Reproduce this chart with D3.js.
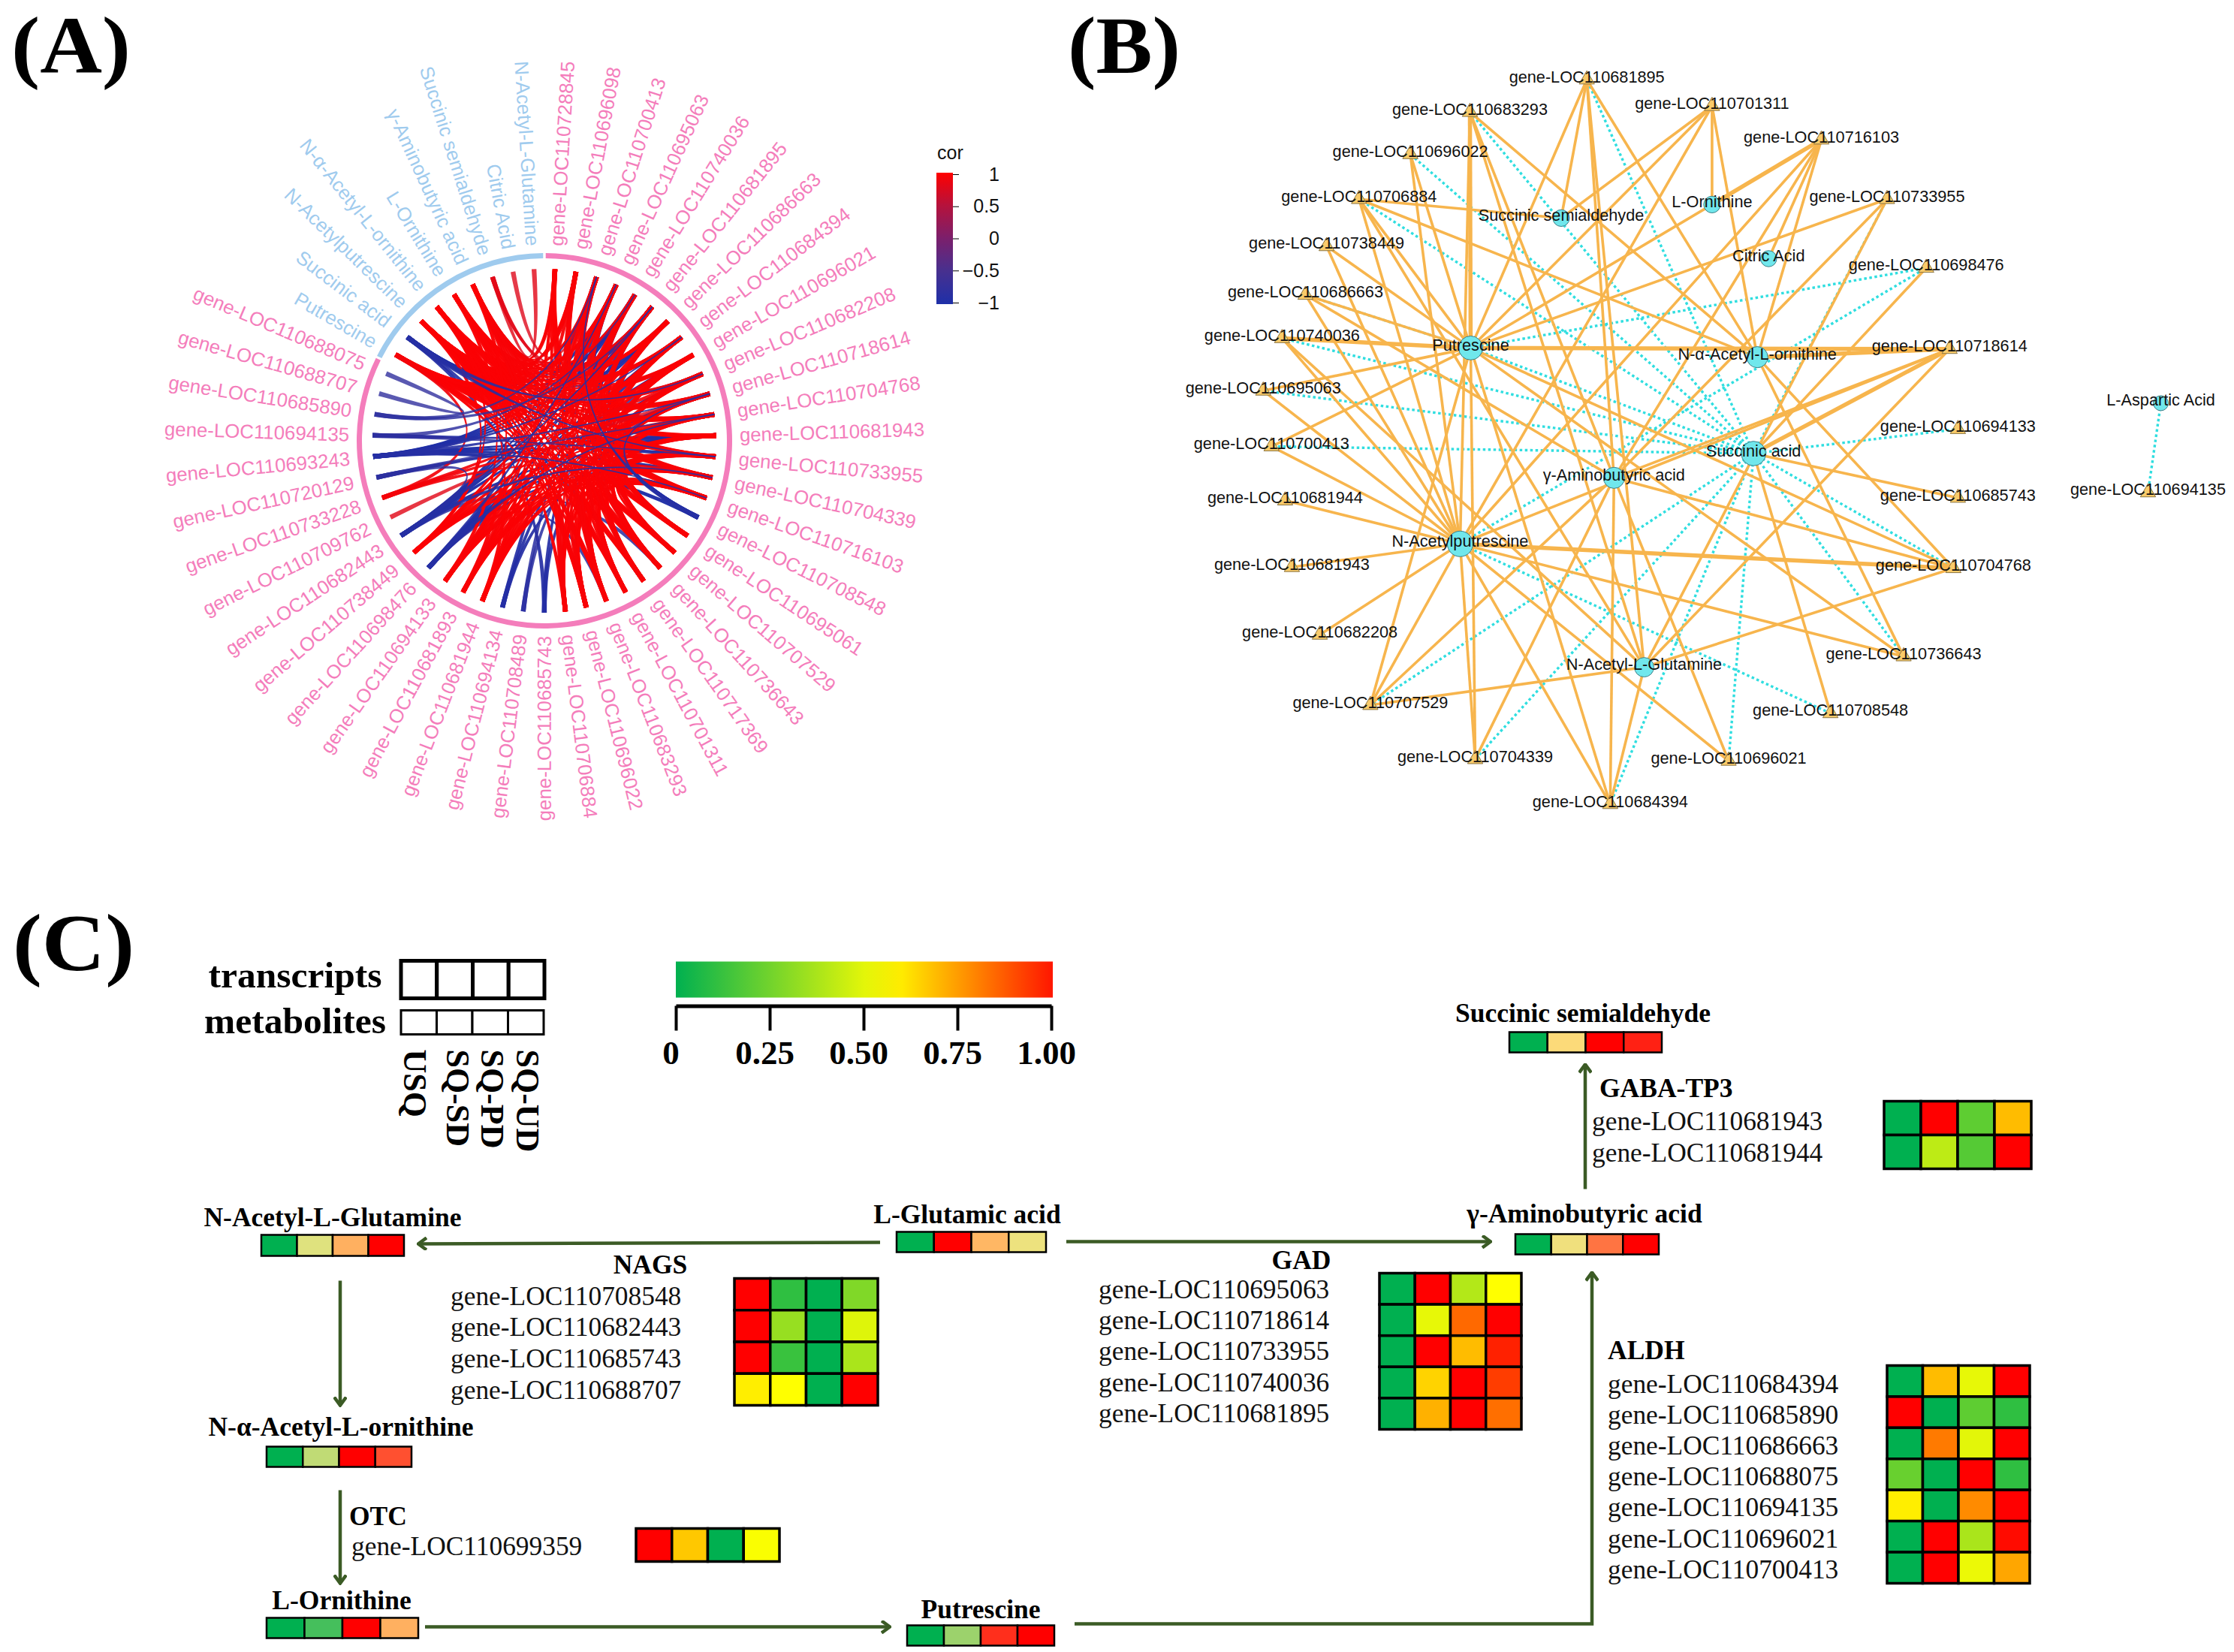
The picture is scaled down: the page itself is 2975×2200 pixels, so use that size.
<!DOCTYPE html>
<html><head><meta charset="utf-8">
<script src="https://cdn.jsdelivr.net/npm/d3@7/dist/d3.min.js"></script>
<style>html,body{margin:0;background:#fff}svg{display:block}</style></head>
<body><svg id="c" width="2975" height="2200"></svg>
<script>
// ---------- DATA: panel A ----------
const chordGenes = ["728845","696098","700413","695063","740036","681895","686663","684394","696021","682208","718614","704768","681943","733955","704339","716103","708548","695061","707529","736643","717369","701311","683293","696022","706884","685743","708489","694134","681944","681893","694133","698476","738449","682443","709762","733228","720129","693243","694135","685890","688707","688075"];
const chordMetabolites = ["Putrescine","Succinic acid","N-Acetylputrescine","N-α-Acetyl-L-ornithine","L-Ornithine","γ-Aminobutyric acid","Succinic semialdehyde","Citric Acid","N-Acetyl-L-Glutamine"];
const corTicks = [1,0.5,0,-0.5,-1];
// node indices: 0-41 genes clockwise from the top, 42-50 metabolites
const blueUnder = [[43,[4,5,6,7,3],-0.97],[37,[3,4,5,6,12,13,14],-0.97],[33,[3,4,6,8,12,2],-0.97],[31,[5,7,10,12,14,9],-0.97],[16,[3,4,5,6,37],-0.97],[12,[38,36],-0.92],[25,[5,10,43],-0.92],[26,[4,8],-0.85],[27,[3,7,12],-0.92],[43,[11,20],-0.9],[31,[22],-0.85],[33,[19],-0.85]];
const redLinks = [
 [42,[3,5,7,9,10,11,12,13,14,15,18,20,1,8,19,22],0.97],
 [44,[1,2,4,6,8,10,11,12,13,14,15,17,18,19,20,21,22,23,3,5,7,9],0.97],
 [45,[3,5,7,9,10,12,14,18,20,22,24,1,6,11,19,21,23],0.97],
 [46,[0,2,9,11,13,15,19,21,3,5,7,17,23],0.97],
 [47,[0,1,3,5,8,10,11,13,17,19,23,7,14,15,21],0.95],
 [48,[50,5,9],0.8],[49,[2],0.78],
 [5,[18,20,22],0.97],[6,[17,19,21,23],0.97],[7,[18,20,22,24],0.97],[8,[17,19,21,23],0.97],[9,[18,20,22,24],0.97],
 [10,[17,19,21,23],0.97],[11,[18,20,22,24,28],0.97],[12,[17,19,21,23,29],0.97],[13,[18,20,22,24,28],0.97],[14,[19,21,23,29,30],0.97],[15,[18,20,22,24,30],0.97],
 [32,[44,45,5,8,11,3,13,15],0.97],[30,[5,9,12,46,3,7,14],0.97],[29,[3,7,13,47,5,10,15],0.97],[28,[2,6,10,45,4,8,14],0.97],[34,[10],0.8],[35,[9,11,14,42],0.92],
 [0,[24,17,19,21,28],0.97],[1,[23,19,20,22,29],0.95],[2,[22,18,17,24,30],0.95],[3,[21,18,19,23],0.95],[4,[20,24,17,21,22],0.95]];
const blueOver = [[40,[41],-0.78],[39,[2,5],-0.82],[38,[4,13],-0.82],[36,[33,11],-0.82],[37,[15,7,10],-0.9],[16,[2,10],-0.9],[43,[9,13],-0.9],[33,[14,5],-0.9],[31,[3,11],-0.9]];
const blueEnds = [16,25,26,27,31,33,36,37,38,39,40,41,43];

// ---------- DATA: panel B ----------
const netGenes = ["681895","683293","701311","696022","716103","706884","733955","738449","698476","686663","740036","718614","695063","700413","694133","681944","685743","681943","704768","682208","736643","707529","708548","704339","696021","684394","694135"];
const netGeneX = [710,555,876,476,1021,408,1108,365,1160,337,306,1191,281,292,1202,310,1202,319,1196,356,1130,423,1033,562,898,741,1454];
const netGeneY = [147,207,196,285,258,368,368,455,495,545,625,645,722,825,793,925,920,1048,1050,1173,1213,1303,1318,1403,1406,1486,910];
const netMets = ["Succinic semialdehyde","L-Ornithine","Citric Acid","Putrescine","N-α-Acetyl-L-ornithine","Succinic acid","γ-Aminobutyric acid","N-Acetylputrescine","N-Acetyl-L-Glutamine","L-Aspartic Acid"];
const netMetX = [676,876,951,556,936,931,746,542,786,1471];
const netMetY = [403,378,478,643,660,838,883,1005,1233,745];
const netMetDegree = [4,4,3,17,12,18,12,20,9,1];
const netSolid = [
 ["Succinic semialdehyde",["706884","701311","681895"]],
 ["L-Ornithine",["701311","716103"]],
 ["Citric Acid",["716103"]],
 ["Putrescine",["681895","683293","701311","696022","716103","706884","733955","738449","686663","740036","718614","695063","700413","704768","707529","704339","736643","684394"]],
 ["N-α-Acetyl-L-ornithine",["681895","683293","701311","716103","706884","718614","736643","704768"]],
 ["Succinic acid",["718614","685743","698476","708548"]],
 ["γ-Aminobutyric acid",["681895","716103","718614","704768","684394","683293","686663","707529","704339","733955","696021"]],
 ["N-Acetylputrescine",["683293","701311","716103","696022","706884","738449","686663","740036","718614","695063","700413","681944","681943","704768","682208","736643","707529","704339","696021","684394"]],
 ["N-Acetyl-L-Glutamine",["681895","683293","706884","740036","704768","707529","733955","718614","684394"]]];
const netDotted = [
 ["Putrescine",["698476","686663","Succinic acid"]],
 ["Succinic acid",["681895","683293","696022","706884","733955","740036","718614","695063","700413","694133","704768","736643","707529","704339","696021","684394"]],
 ["N-Acetylputrescine",["708548","698476"]],
 ["L-Aspartic Acid",["694135"]]];
const netThick = ["Putrescine|740036","Putrescine|718614","N-α-Acetyl-L-ornithine|718614","Succinic acid|718614","N-Acetylputrescine|704768","Putrescine|683293","L-Ornithine|716103"];

// ---------- DATA: panel C ----------
const conditions = ["USQ","SQ-SD","SQ-PD","SQ-UD"];
const scaleTicks = [0,0.25,0.5,0.75,1];
const metabNames = ["N-Acetyl-L-Glutamine","N-α-Acetyl-L-ornithine","L-Ornithine","Putrescine","L-Glutamic acid","γ-Aminobutyric acid","Succinic semialdehyde"];
const metabValues = [[0,.43,.72,1],[0,.36,1,.88],[0,.12,1,.72],[0,.28,.93,1],[0,1,.7,.48],[0,.5,.82,1],[0,.58,1,.95]];
const nagsGenes = ["gene-LOC110708548","gene-LOC110682443","gene-LOC110685743","gene-LOC110688707"];
const nagsValues = [[1,.1,0,.27],[1,.32,0,.47],[1,.12,0,.36],[.57,.54,0,1]];
const otcGenes = ["gene-LOC110699359"];
const otcValues = [[1,.64,0,.53]];
const gadGenes = ["gene-LOC110695063","gene-LOC110718614","gene-LOC110733955","gene-LOC110740036","gene-LOC110681895"];
const gadValues = [[0,1,.38,.54],[0,.49,.81,1],[0,1,.66,.94],[0,.62,1,.89],[0,.68,1,.8]];
const gabaGenes = ["gene-LOC110681943","gene-LOC110681944"];
const gabaValues = [[0,1,.2,.66],[0,.4,.18,1]];
const aldhGenes = ["gene-LOC110684394","gene-LOC110685890","gene-LOC110686663","gene-LOC110688075","gene-LOC110694135","gene-LOC110696021","gene-LOC110700413"];
const aldhValues = [[0,.66,.49,1],[1,0,.2,.1],[0,.78,.48,1],[.22,0,1,.1],[.57,0,.75,1],[0,1,.36,.98],[0,1,.5,.7]];

// ---------- LAYOUT ----------
const svg = d3.select("#c");
svg.append("rect").attr("width",2975).attr("height",2200).attr("fill","#fff");
const SERIF="'Liberation Serif','Times New Roman',serif", SANS="'Liberation Sans',Arial,sans-serif";
[["(A)",15,97,159],["(B)",1422,97,150],["(C)",17,1292,162]].forEach(d=>svg.append("text").text(d[0]).attr("x",d[1]).attr("y",d[2])
  .attr("textLength",d[3]).attr("lengthAdjust","spacingAndGlyphs")
  .attr("font-family",SERIF).attr("font-weight","bold").attr("font-size",108).attr("fill","#000"));

// ---------- PANEL A ----------
const A = svg.append("g").attr("transform","translate(725,587)");
const nodeIds = chordGenes.map(d=>"gene-LOC110"+d).concat(chordMetabolites);
const angle = d3.scalePoint().domain(d3.range(51)).range([3.53,3.53+50*7.06]);
const PINK="#F47DBB", LBLUE="#9FCBEE";
const polar=(deg,r)=>[r*Math.sin(deg*Math.PI/180),-r*Math.cos(deg*Math.PI/180)];
const ringArc=d3.arc().innerRadius(243).outerRadius(250);
A.append("path").attr("fill",PINK).attr("d",ringArc({startAngle:0.4*Math.PI/180,endAngle:(3.53+41*7.06+3.2)*Math.PI/180}));
A.append("path").attr("fill",LBLUE).attr("d",ringArc({startAngle:(3.53+41*7.06+3.9)*Math.PI/180,endAngle:(360-0.4)*Math.PI/180}));
nodeIds.forEach((n,i)=>{
  const a=angle(i), right=a<179;
  const p=polar(a,260);
  A.append("text").text(n).attr("transform",`translate(${p[0]},${p[1]}) rotate(${right?a-90:a+90})`)
   .attr("text-anchor",right?"start":"end").attr("dy","0.35em")
   .attr("font-family",SANS).attr("font-size",25.8).attr("fill",i<42?PINK:LBLUE);
});
const corColor=d3.scaleLinear().domain([-1,-0.5,0,0.5,1]).range(["#1E2FA8","#47308F","#7B1F6C","#B5123C","#FF0000"]);
const corAlpha=d3.scaleLinear().domain([0.7,1]).range([0.72,1]);
const ribbonLine=d3.line().curve(d3.curveLinearClosed);
function ribbon(a,b,endB){
  const P=polar(angle(a),229), Q=polar(angle(b),229), L=[], R=[];
  for(let k=0;k<=32;k++){
    const t=k/32, u=1-t;
    const x=u*u*P[0]+t*t*Q[0], y=u*u*P[1]+t*t*Q[1];
    let dx=-2*u*P[0]+2*t*Q[0], dy=-2*u*P[1]+2*t*Q[1];
    const m=Math.hypot(dx,dy)||1; dx/=m; dy/=m;
    const wE=t<0.5?3.2:endB;
    const w=0.85+(wE-0.85)*Math.pow(Math.abs(2*t-1),1.2);
    L.push([x-dy*w,y+dx*w]); R.unshift([x+dy*w,y-dx*w]);
  }
  return ribbonLine(L.concat(R));
}
const expand=(l,over)=>l.flatMap(([a,bs,r])=>bs.map(b=>({a,b,r,e:over&&!blueEnds.includes(b)?0.85:3.2})));
A.selectAll("path.link").data([...expand(blueUnder,false),...expand(redLinks,false),...expand(blueOver,true)]).join("path")
 .attr("class","link").attr("d",d=>ribbon(d.a,d.b,d.e)).attr("fill",d=>corColor(d.r)).attr("fill-opacity",d=>corAlpha(Math.abs(d.r)));
// legend
const corY=d3.scaleLinear().domain([-1,1]).range([403,232]);
const defs=svg.append("defs");
const gr=defs.append("linearGradient").attr("id","corG").attr("x1",0).attr("x2",0).attr("y1",1).attr("y2",0);
d3.range(-1,1.01,0.25).forEach(v=>gr.append("stop").attr("offset",(v+1)/2).attr("stop-color",corColor(v)));
svg.append("rect").attr("x",1247).attr("y",230).attr("width",22).attr("height",175).attr("fill","url(#corG)");
const corAxis=svg.append("g").attr("transform","translate(1269,0)").call(d3.axisRight(corY).tickValues(corTicks).tickSize(8).tickFormat(d3.format("")));
corAxis.select(".domain").remove();
corAxis.selectAll("text").attr("x",62).attr("text-anchor","end").attr("font-family",SANS).attr("font-size",25).attr("fill","#111");
svg.append("text").text("cor").attr("x",1248).attr("y",212).attr("font-family",SANS).attr("font-size",25).attr("fill","#111");

// ---------- PANEL B ----------
const nx=d3.scaleLinear().domain([0,1568]).range([1400,2975]);
const ny=d3.scaleLinear().domain([0,1568]).range([0,1130]);
const B=svg.append("g");
const pos=new Map();
netGenes.forEach((g,i)=>pos.set(g,[nx(netGeneX[i]),ny(netGeneY[i])]));
netMets.forEach((m,i)=>pos.set(m,[nx(netMetX[i]),ny(netMetY[i])]));
const flat=l=>l.flatMap(([m,gs])=>gs.map(g=>({m,g})));
B.selectAll("line.d").data(flat(netDotted)).join("line").attr("class","d")
 .attr("x1",d=>pos.get(d.m)[0]).attr("y1",d=>pos.get(d.m)[1]).attr("x2",d=>pos.get(d.g)[0]).attr("y2",d=>pos.get(d.g)[1])
 .attr("stroke","#30DEE0").attr("stroke-width",3.4).attr("stroke-dasharray","3.5 3.5");
B.selectAll("line.s").data(flat(netSolid)).join("line").attr("class","s")
 .attr("x1",d=>pos.get(d.m)[0]).attr("y1",d=>pos.get(d.m)[1]).attr("x2",d=>pos.get(d.g)[0]).attr("y2",d=>pos.get(d.g)[1])
 .attr("stroke","#F7B54D").attr("stroke-width",d=>netThick.includes(d.m+"|"+d.g)?5.5:3.6);
const tri=d3.symbol().type(d3.symbolTriangle).size(180);
B.selectAll("path.g").data(netGenes).join("path").attr("class","g").attr("d",tri)
 .attr("transform",d=>`translate(${pos.get(d)[0]},${pos.get(d)[1]})`).attr("fill","#F9CB6A").attr("stroke","#8A7440").attr("stroke-width",1);
const metR=d3.scaleLinear().domain([1,20]).range([10,17]);
B.selectAll("circle.m").data(netMets).join("circle").attr("class","m")
 .attr("cx",d=>pos.get(d)[0]).attr("cy",d=>pos.get(d)[1]).attr("r",(d,i)=>metR(netMetDegree[i]))
 .attr("fill","#70E7EC").attr("stroke","#3F8088").attr("stroke-width",1);
B.selectAll("text.gl").data(netGenes.map(g=>"gene-LOC110"+g)).join("text").attr("class","gl").text(d=>d)
 .attr("x",(d,i)=>nx(netGeneX[i])).attr("y",(d,i)=>ny(netGeneY[i])-4).attr("dy","0.35em").attr("text-anchor","middle")
 .attr("font-family",SANS).attr("font-size",21.7).attr("fill","#111");
B.selectAll("text.ml").data(netMets).join("text").attr("class","ml").text(d=>d)
 .attr("x",(d,i)=>nx(netMetX[i])).attr("y",(d,i)=>ny(netMetY[i])-4).attr("dy","0.35em").attr("text-anchor","middle")
 .attr("font-family",SANS).attr("font-size",21.7).attr("fill","#111");

// ---------- PANEL C ----------
const C=svg.append("g").attr("transform","translate(0,1.5)");
const heat=d3.scaleLinear().domain([0,.54,1]).range(["#00B050","#FFFF00","#FF0000"]);
const metabHeat=d3.scaleLinear().domain([0,.25,.45,.6,.72,.88,1]).range(["#00B050","#8FCF68","#E8E480","#FFD878","#FFB060","#FF5030","#FF0000"]);
const bold=(t,x,y,size,anchor)=>C.append("text").text(t).attr("x",x).attr("y",y).attr("font-family",SERIF).attr("font-weight","bold").attr("font-size",size).attr("text-anchor",anchor||"middle").attr("fill","#000");
const plain=(t,x,y)=>C.append("text").text(t).attr("x",x).attr("y",y).attr("font-family",SERIF).attr("font-size",35.4).attr("fill","#111");

function tiles(values,x0,x1,y0,y1,color,sw){
  const xs=d3.scaleBand().domain(d3.range(values[0].length)).range([x0,x1]);
  const ys=d3.scaleBand().domain(d3.range(values.length)).range([y0,y1]);
  const g=C.append("g");
  values.forEach((row,r)=>row.forEach((v,c)=>g.append("rect").attr("x",xs(c)).attr("y",ys(r)).attr("width",xs.bandwidth()).attr("height",ys.bandwidth())
    .attr("fill",v===null?"#fff":color(v)).attr("stroke","#000").attr("stroke-width",sw)));
}
// legend boxes
bold("transcripts",393,1313,49.5); bold("metabolites",393,1374,49.5);
tiles([[null,null,null,null]],534,725,1278,1328,heat,5);
tiles([[null,null,null,null]],534,724,1344,1376,heat,3);
const condX=[553,610,656,703];
conditions.forEach((c,i)=>C.append("text").text(c).attr("transform",`translate(${condX[i]},1396) rotate(90)`).attr("dy","0.35em")
  .attr("font-family",SERIF).attr("font-weight","bold").attr("font-size",44).attr("fill","#000"));
// gradient scale
const sx=d3.scaleLinear().domain([0,1]).range([900,1400]);
const hg=defs.append("linearGradient").attr("id","heatG");
d3.range(0,1.001,0.1).forEach(v=>hg.append("stop").attr("offset",v).attr("stop-color",heat(v*0.96)));
C.append("rect").attr("x",900).attr("y",1279).attr("width",502).attr("height",48).attr("fill","url(#heatG)");
const sAxis=C.append("g").attr("transform","translate(0,1338)").call(d3.axisBottom(sx).tickValues(scaleTicks).tickSize(33).tickSizeOuter(0).tickFormat(d=>d===0?"0":d3.format(".2f")(d)));
sAxis.select(".domain").attr("stroke","#000").attr("stroke-width",5);
sAxis.selectAll("line").attr("stroke","#000").attr("stroke-width",4);
sAxis.selectAll("text").attr("dx",-7).attr("y",77).attr("dy",0).attr("font-family",SERIF).attr("font-weight","bold").attr("font-size",45).attr("fill","#000");
// metabolite strips
const strips=[[443,1631,348,538,1643,1671],[454,1910,355,548,1925,1952],[455,2141,355,557,2153,2180],[1306,2153,1208,1404,2163,2190],[1288,1627,1194,1393,1639,1666],[2110,1626,2018,2209,1642,1669],[2108,1359,2010,2213,1373,1400]];
metabNames.forEach((n,i)=>{const s=strips[i];bold(n,s[0],s[1],35.5);tiles([metabValues[i]],s[2],s[3],s[4],s[5],metabHeat,2.5);});
// enzymes
function block(title,tx,ty,tAnchor,genes,lx,base,step,values,x0,x1,y0,y1){
  bold(title,tx,ty,35.5,tAnchor);
  genes.forEach((g,i)=>plain(g,lx,base+i*step));
  tiles(values,x0,x1,y0,y1,heat,3.5);
}
block("NAGS",866,1694,"middle",nagsGenes,600,1736,41.7,nagsValues,978,1169,1701,1870);
block("OTC",465,2029,"start",otcGenes,468,2069,0,otcValues,847,1038,2034,2078);
block("GAD",1733,1688,"middle",gadGenes,1463,1727,41.4,gadValues,1837,2026,1694,1902);
block("GABA-TP3",2130,1459,"start",gabaGenes,2120,1503,42,gabaValues,2509,2705,1465,1555);
block("ALDH",2141,1808,"start",aldhGenes,2141,1853,41.2,aldhValues,2513,2703,1817,2107);
// arrows
const ARROW="#3B5B25";
defs.append("marker").attr("id","ah").attr("viewBox","-12 -9 14 18").attr("refX",0).attr("refY",0).attr("markerWidth",14).attr("markerHeight",18).attr("markerUnits","userSpaceOnUse").attr("orient","auto")
 .append("path").attr("d","M-11,-8 L0,0 L-11,8").attr("fill","none").attr("stroke",ARROW).attr("stroke-width",4.5);
const arrows=[[[1172,1653],[557,1655]],[[453,1704],[453,1870]],[[453,1983],[453,2107]],[[566,2165],[1185,2165]],[[1431,2161],[2120,2161],[2120,1693]],[[1420,1652],[1985,1652]],[[2111,1582],[2111,1416]]];
const al=d3.line();
C.selectAll("path.ar").data(arrows).join("path").attr("class","ar").attr("d",d=>al(d)).attr("fill","none").attr("stroke",ARROW).attr("stroke-width",4.5).attr("marker-end","url(#ah)");
</script></body></html>
